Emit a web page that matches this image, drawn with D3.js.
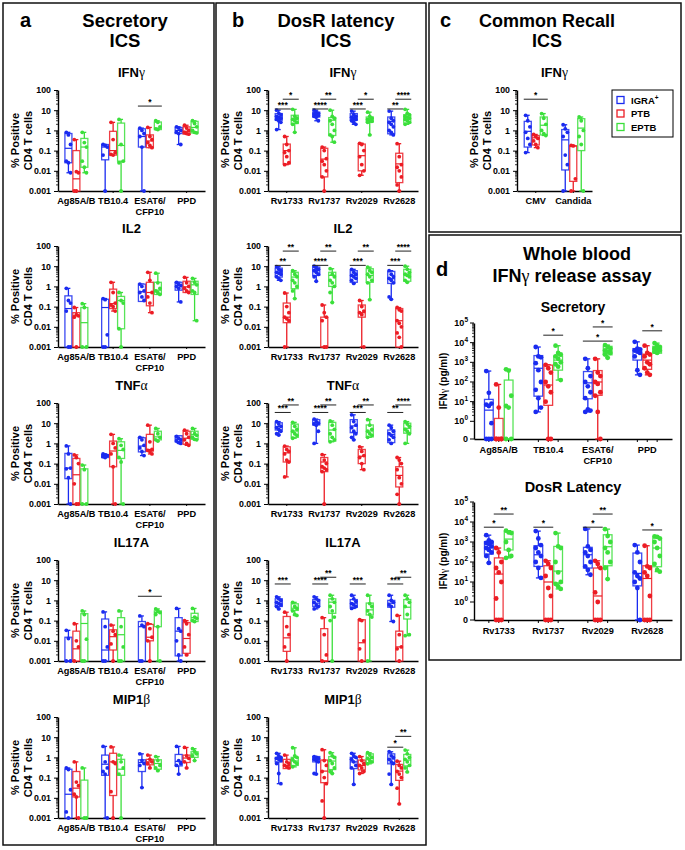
<!DOCTYPE html>
<html><head><meta charset="utf-8">
<script src="https://cdn.jsdelivr.net/npm/d3@7"></script>
<style>
body{margin:0;background:#fff}
svg text{font-family:"Liberation Sans",Arial,sans-serif;font-weight:bold;fill:#000}
</style>
</head><body>
<svg id="chart" width="685" height="850"></svg>
<script>
// ---------------- DATA ----------------
const groups = ["IGRA+","PTB","EPTB"];
const groupColors = ["#1a2bf0","#ec1c24","#3bdf3b"];
const secCats = ["Ag85A/B","TB10.4","ESAT6/|CFP10","PPD"];
const dosCats = ["Rv1733","Rv1737","Rv2029","Rv2628"];
const recallCats = ["CMV","Candida"];
const icsTicks = [0.001,0.01,0.1,1,10,100];
const icsTickLabels = ["0.001","0.01","0.1","1","10","100"];
const wbTicks = [0,1,10,100,1000,10000,100000];
const wbTickLabels = ["0","10|0","10|1","10|2","10|3","10|4","10|5"];

// each group: [q1, median, q3, points]
const aIFNg = [
 [[0.025,0.13,0.7,[0.8,0.6,0.2,0.03,0.025,0.008]],[0.001,0.004,0.1,[0.35,0.009,0.008,0.001,0.001]],[0.015,0.15,0.4,[0.8,0.25,0.15,0.03,0.015,0.008]]],
 [[0.035,0.15,0.2,[0.2,0.18,0.15,0.06,0.001]],[0.06,0.1,0.9,[2.5,0.35,0.08,0.065,0.06]],[0.03,0.18,2.3,[3.5,0.2,0.03,0.025,0.001]]],
 [[0.15,0.5,1.2,[1.3,1,0.7,0.5,0.15,0.001]],[0.14,0.3,0.6,[1.4,0.5,0.35,0.25,0.18,0.14]],[1.1,1.3,2.6,[3,2.5,1.5,1.2,1.1]]],
 [[0.7,1,1.4,[1.5,1.3,1,0.8,0.7,0.2]],[0.65,0.9,1.5,[1.8,1.3,1,0.8,0.7,0.65]],[0.75,1.4,2.8,[3,2.2,1.5,1,0.8,0.75]]]
];
const aIFNgSig = [[2,0,2,"*",16]];
const aIL2 = [
 [[0.001,0.08,0.34,[0.8,0.2,0.15,0.06,0.001,0.001]],[0.001,0.035,0.05,[0.09,0.04,0.035,0.03,0.001]],[0.001,0.016,0.09,[0.14,0.09,0.001,0.001]]],
 [[0.001,0.09,0.23,[0.25,0.22,0.004,0.001,0.001]],[0.08,0.14,0.73,[1.6,0.5,0.15,0.12,0.1,0.06]],[0.008,0.2,0.32,[0.5,0.2,0.15,0.008,0.001]]],
 [[0.18,0.55,1.3,[1.3,1,0.6,0.5,0.3,0.2]],[0.11,0.5,1.6,[5,2,0.5,0.3,0.15,0.05]],[0.4,0.65,1.6,[4.5,1.5,0.8,0.6,0.5,0.4]]],
 [[0.65,1.1,1.6,[1.6,1.3,1.1,1,0.8,0.17]],[0.5,0.95,1.8,[2.8,1.5,1,0.8,0.6,0.5]],[0.4,1.2,1.8,[2.5,1.6,1.2,0.6,0.5,0.02]]]
];
const aIL2Sig = [];
const aTNFa = [
 [[0.018,0.06,0.32,[0.75,0.3,0.06,0.055,0.02,0.001]],[0.001,0.028,0.18,[0.27,0.2,0.1,0.01,0.001,0.001]],[0.001,0.001,0.055,[0.085,0.05,0.001,0.001]]],
 [[0.2,0.24,0.28,[0.3,0.27,0.25,0.22,0.2]],[0.07,0.42,1.3,[2.8,1,0.6,0.3,0.07,0.001]],[0.18,0.45,1.2,[1.7,0.8,0.5,0.2,0.12,0.001]]],
 [[0.38,0.74,1.9,[2,1.5,0.8,0.6,0.4,0.25]],[0.42,0.5,2.8,[8,1.2,0.5,0.45,0.4,0.3]],[1.5,2.1,4,[5.5,3,2,1.5,1.3]]],
 [[1.2,1.6,2.4,[2.2,1.8,1.5,1.3,1.1,1]],[0.9,1.8,4,[4.5,3,2,1.5,1,0.8]],[1.6,2.7,4,[5.5,3,2.5,2,1.6,1.5]]]
];
const aTNFaSig = [];
const aIL17A = [
 [[0.001,0.001,0.015,[0.033,0.013,0.001,0.001]],[0.001,0.004,0.03,[0.07,0.01,0.005,0.001]],[0.001,0.072,0.22,[0.3,0.2,0.012,0.001,0.001]]],
 [[0.001,0.0035,0.12,[0.27,0.05,0.005,0.001,0.001]],[0.0035,0.016,0.035,[0.06,0.03,0.02,0.007,0.001]],[0.001,0.02,0.14,[0.3,0.05,0.005,0.001,0.001]]],
 [[0.001,0.05,0.09,[0.17,0.06,0.05,0.001,0.001]],[0.01,0.015,0.065,[0.07,0.04,0.015,0.01,0.001]],[0.05,0.25,0.3,[0.38,0.3,0.25,0.2,0.05,0.001]]],
 [[0.0018,0.03,0.14,[0.4,0.04,0.03,0.01,0.002,0.001]],[0.0024,0.013,0.08,[0.1,0.07,0.02,0.005,0.002]],[0.09,0.14,0.23,[0.4,0.15,0.13,0.1,0.09]]]
];
const aIL17ASig = [[2,0,2,"*",1.6]];
const aMIP1b = [
 [[0.001,0.015,0.26,[0.3,0.25,0.025,0.002,0.001]],[0.011,0.03,0.2,[0.6,0.06,0.04,0.015,0.011,0.001]],[0.001,0.001,0.075,[0.3,0.001,0.001]]],
 [[0.13,0.46,1.3,[3.5,0.6,0.3,0.2,0.15,0.001]],[0.013,0.6,1.6,[3.3,0.6,0.5,0.02,0.001]],[0.13,0.26,0.8,[1.3,0.6,0.3,0.15,0.001]]],
 [[0.2,0.56,0.76,[1.5,0.7,0.5,0.4,0.032]],[0.43,0.6,0.8,[1.3,0.8,0.6,0.5,0.3]],[0.26,0.5,0.76,[1.1,0.7,0.4,0.3,0.22]]],
 [[0.38,0.63,1.4,[3.5,0.7,0.5,0.4,0.15]],[0.56,0.93,1.3,[3.1,1.2,0.9,0.6,0.3]],[1,1.5,1.9,[2.7,2,1.5,1.2,0.7]]]
];
const aMIP1bSig = [];

const bIFNg = [
 [[3.2,4.6,6.8,[10,7,6,5,4.5,4,3.5,3,2.5,1.1]],[0.022,0.1,0.21,[0.5,0.2,0.1,0.08,0.05,0.025,0.02]],[2.2,3.8,5.6,[11,5,4,3.5,3,2.5,2,0.8]]],
 [[4.6,6.3,8,[10,8,7,6.5,6,5.5,5,4.5,3]],[0.005,0.038,0.13,[0.15,0.1,0.04,0.03,0.02,0.01,0.005,0.001]],[0.56,3.2,4.3,[10,5,4,3,2,1,0.6,0.5,0.26]]],
 [[3.2,4.6,6.8,[9,6,5,4.5,4,3.5,3,2.5,2]],[0.01,0.056,0.21,[0.23,0.2,0.1,0.05,0.02,0.01,0.006]],[2.6,3.8,4.6,[8,5,4,3.5,3,2.8,2.5,0.6]]],
 [[0.68,2.8,4.6,[9,4,3,2.5,2,1.5,1,0.8,0.6]],[0.0026,0.022,0.074,[0.22,0.05,0.02,0.015,0.01,0.005,0.002,0.001]],[2.3,4.6,6,[11,7,6,5,4.5,4,3.5,3,2.5,2]]]
];
const bIFNgSig = [[0,0,1,"***",11.5],[0,1,2,"*",35],[1,0,1,"****",11.5],[1,1,2,"**",35],[2,0,1,"***",11.5],[2,1,2,"*",35],[3,0,1,"**",11.5],[3,1,2,"****",35]];
const bIL2 = [
 [[2.9,5,8,[9.5,7,6,5,4.5,4,3,2.5,2]],[0.016,0.03,0.15,[0.47,0.1,0.05,0.03,0.025,0.02,0.001]],[0.77,2.9,5,[6,4,3,2,1.5,1,0.6,0.25]]],
 [[3.5,6,9,[10,8,7,6,5,4,3,1.8]],[0.001,0.001,0.03,[0.12,0.05,0.03,0.02,0.001,0.001]],[1,3.5,5,[7.5,4,3,2,1.5,1,0.5,0.16]]],
 [[1.6,3.5,6,[7,5,4,3.5,3,2.5,2,1.4]],[0.03,0.05,0.12,[0.2,0.1,0.06,0.05,0.04,0.001]],[1.6,3.5,7.5,[9,6,5,4,3,2,1.5,0.22]]],
 [[1.4,2.4,5.5,[6,4,3,2.5,2,1.5,0.3,0.23]],[0.001,0.02,0.08,[0.09,0.07,0.06,0.02,0.015,0.01,0.005,0.003,0.001]],[1.8,4,7,[10,7,5,4,3.5,3,2,1.6]]]
];
const bIL2Sig = [[0,0,1,"**",11],[0,1,2,"**",56],[1,0,1,"****",11],[1,1,2,"**",56],[2,0,1,"***",11],[2,1,2,"**",56],[3,0,1,"***",11],[3,1,2,"****",56]];
const bTNFa = [
 [[4.6,6.8,10.5,[12,9,7,6,5,4,3,2.6]],[0.12,0.34,0.68,[0.74,0.5,0.4,0.3,0.15,0.12,0.022]],[2,4.1,9,[11,7,5,4,3,2.5,1.8]]],
 [[8.2,10.5,15,[16,12,10,9,8,4,1]],[0.04,0.12,0.2,[0.28,0.15,0.1,0.07,0.06,0.05,0.04,0.001]],[1.3,4.6,11,[13,8,5,3,2,1.5,1.2]]],
 [[3.4,7.3,15,[26,12,8,6,4,3,2,1.5]],[0.1,0.23,0.5,[0.68,0.4,0.25,0.2,0.1,0.05]],[2.1,4.1,8.2,[15,8,5,4,3,2.5,2]]],
 [[1.1,2.8,4.6,[8,6,4,3,2.5,2,1.5,1]],[0.007,0.026,0.07,[0.2,0.15,0.1,0.05,0.02,0.01,0.003,0.001]],[3.2,5.6,10,[12,9,7,5,4,3,1]]]
];
const bTNFaSig = [[0,0,1,"***",34],[0,1,2,"**",80],[1,0,1,"****",34],[1,1,2,"**",80],[2,0,1,"***",34],[2,1,2,"**",80],[3,0,1,"**",34],[3,1,2,"****",80]];
const bIL17A = [
 [[0.5,0.73,1.2,[1.5,1.2,1,0.8,0.7,0.6,0.5,0.38]],[0.003,0.014,0.16,[0.26,0.05,0.02,0.005,0.001]],[0.32,0.41,0.68,[0.8,0.5,0.4,0.3,0.2,0.18]]],
 [[0.5,0.73,1.1,[1.5,1.2,1,0.8,0.6,0.5,0.38]],[0.001,0.001,0.04,[0.14,0.02,0.002,0.001]],[0.23,0.82,1.2,[1.8,1.2,0.8,0.5,0.3,0.15,0.1,0.001]]],
 [[0.46,0.73,1.1,[1.8,1.2,0.9,0.7,0.6,0.5,0.4]],[0.001,0.008,0.11,[0.11,0.1,0.01,0.004,0.001]],[0.19,0.34,0.74,[1.8,0.7,0.5,0.3,0.2,0.15,0.001]]],
 [[0.46,0.73,1,[1.8,1,0.8,0.6,0.5,0.09]],[0.001,0.005,0.03,[0.18,0.02,0.005,0.004,0.001]],[0.12,0.46,1.1,[1.8,1.2,0.8,0.5,0.2,0.02,0.018]]]
];
const bIL17ASig = [[0,0,1,"***",6.5],[1,0,1,"****",6.5],[1,1,2,"**",14],[2,0,1,"***",6.5],[3,0,1,"***",6.5],[3,1,2,"**",14]];
const bMIP1b = [
 [[0.6,0.8,1,[1.6,1.2,1,0.9,0.8,0.7,0.5,0.16,0.05]],[0.28,0.4,0.8,[1.3,0.6,0.5,0.4,0.35,0.3]],[0.4,0.66,1,[3,1.2,1,0.8,0.6,0.5,0.34]]],
 [[0.6,0.8,1.1,[1.1,1,0.9,0.8,0.7,0.6,0.16,0.15]],[0.056,0.21,0.74,[2.4,0.7,0.4,0.2,0.1,0.05,0.007,0.001]],[0.25,0.66,1.1,[1.7,1.2,1,0.7,0.5,0.3,0.2,0.16]]],
 [[0.28,0.6,1,[1.6,1.2,1,0.8,0.6,0.4,0.3,0.046]],[0.24,0.4,0.74,[1.1,0.7,0.5,0.4,0.3,0.2,0.16]],[0.55,0.9,1.5,[1.7,1.3,1,0.9,0.7,0.6,0.48]]],
 [[0.48,0.83,1.5,[1.9,1.2,1,0.8,0.6,0.5,0.15,0.046]],[0.073,0.21,0.45,[0.65,0.4,0.3,0.2,0.15,0.1,0.03,0.005]],[0.38,0.74,1.4,[2.3,1.5,1,0.8,0.6,0.4,0.3,0.19]]]
];
const bMIP1bSig = [[3,0,1,"*",3.2],[3,1,2,"**",11]];

const cIFNg = [
 [[0.15,0.9,2.8,[5.6,3,1.5,0.8,0.4,0.2,0.08]],[0.19,0.43,0.56,[0.63,0.5,0.4,0.3,0.2,0.14]],[0.6,1.8,4.6,[6.8,4,2,1,0.7,0.56]]],
 [[0.011,0.34,1.1,[1.9,1.2,0.8,0.5,0.06,0.02,0.001]],[0.003,0.17,0.17,[0.18,0.17,0.004,0.001]],[0.1,1.3,3.8,[4.6,3,1,0.5,0.2,0.001]]]
];
const cIFNgSig = [[0,0,2,"*",35]];

const dSec = [
 [[0,3.7,13,[360,28,8,7,6,0.8,0,0,0]],[0,0,1.4,[75,5,0,0,0,0,0]],[0,0,125,[440,380,20,6,5,0,0]]],
 [[19,500,2200,[6000,2000,1800,900,400,100,40,15,5,3]],[6.5,70,720,[750,500,300,100,60,30,10,0,0]],[400,1300,2100,[7000,3000,2500,2000,1500,1000,800,600,125]]],
 [[14,90,340,[1500,500,200,100,60,30,15,4,3.5,3]],[21,100,380,[1500,300,200,100,80,30,20,3,0]],[2400,4000,6500,[7500,6000,5000,4000,3500,3000,2500,1700]]],
 [[1300,4000,5000,[11000,5000,4500,4000,3500,3000,2000,400,230]],[440,1300,2600,[7000,3000,2500,2000,1000,800,500,300,230]],[2900,4700,6500,[9500,7000,6000,5000,4500,4000,3500,3000]]]
];
const dSecSig = [[1,1,2,"*",24000],[2,0,2,"*",12000],[2,1,2,"*",63000],[3,1,2,"*",40000]];
const dDosR = [
 [[250,540,1050,[2200,1200,1000,900,800,600,500,400,300,200,90]],[0,25,160,[500,300,100,50,30,10,1.5,0,0,0]],[400,1400,3400,[3700,3000,2800,1000,400,200,160]]],
 [[60,230,650,[3500,1500,700,500,300,200,100,50,16]],[0,10,65,[115,80,50,20,5,2,0,0,0]],[9,35,600,[2800,600,500,100,30,10,8,6,4.5]]],
 [[50,230,540,[4500,600,400,300,200,100,60,40,23]],[0,2,50,[115,80,50,3,1,0,0,0]],[65,580,2300,[4400,2000,1000,500,300,100,50,14]]],
 [[6.4,27,280,[700,300,100,30,20,15,10,5,0]],[0,15,65,[650,60,50,30,20,2,0,0,0]],[58,500,1600,[1900,1800,1500,1000,500,200,80,40,33]]]
];
const dDosRSig = [[0,0,1,"*",5500],[0,1,2,"**",25000],[1,0,1,"*",5500],[2,0,1,"*",5500],[2,1,2,"**",25000],[3,1,2,"*",4000]];

// ---------------- DRAW ----------------
const svg = d3.select("#chart");
svg.append("rect").attr("width",685).attr("height",850).attr("fill","#fff");
const FONT = '"Liberation Sans",Arial,sans-serif';
const ZERO = Math.pow(10,-0.9);

// panel frames
[[3,3,211,842],[216,3,210,842],[429,3,252,229],[429,235,252,425]].forEach(r=>{
  svg.append("rect").attr("x",r[0]).attr("y",r[1]).attr("width",r[2]).attr("height",r[3])
    .attr("fill","none").attr("stroke","#111").attr("stroke-width",1.5);
});

function txt(x,y,s,size,anchor){
  return svg.append("text").attr("x",x).attr("y",y).attr("font-size",size)
    .attr("text-anchor",anchor||"middle").text(s);
}
function greekTitle(x,y,base,greek,size){
  const t = svg.append("text").attr("x",x).attr("y",y).attr("font-size",size).attr("text-anchor","middle");
  t.append("tspan").text(base);
  if(greek) t.append("tspan").attr("font-family",'"Liberation Serif",serif').attr("font-weight","normal").attr("font-size",size*1.05).text(greek);
  return t;
}

// panel headings
txt(20,27,"a",20,"start");
txt(125,27,"Secretory",18.5); txt(125,47,"ICS",18.5);
txt(232,27,"b",20,"start");
txt(336,27,"DosR latency",18.5); txt(336,47,"ICS",18.5);
txt(440,27,"c",20,"start");
txt(547,27,"Common Recall",18); txt(547,47,"ICS",18);
txt(436,276,"d",20,"start");
txt(577,260,"Whole blood",18);
{
  const t = svg.append("text").attr("x",572).attr("y",282).attr("font-size",18).attr("text-anchor","middle");
  t.append("tspan").text("IFN");
  t.append("tspan").attr("font-family",'"Liberation Serif",serif').attr("font-weight","normal").text("γ");
  t.append("tspan").text(" release assay");
}

function drawPlot(o){
  const g = svg.append("g");
  const x = d3.scaleBand().domain(o.cats).range([o.x0,o.x1]);
  const inner = d3.scaleBand().domain(groups).range([-x.bandwidth()*o.gw/2, x.bandwidth()*o.gw/2]);
  const boxW = inner.bandwidth()*0.88;
  const isWB = o.type==="wb";
  const y = d3.scaleLog().domain(isWB?[ZERO,1e5]:[0.001,100]).range([o.bottom,o.top]);
  const yv = v => isWB ? y(v<=0?ZERO:Math.max(v,ZERO)) : y(Math.max(v,0.001));
  const cx = (ci,gi) => x(o.cats[ci]) + x.bandwidth()/2 + inner(groups[gi]) + inner.bandwidth()/2;

  // y axis
  const ticks = isWB?wbTicks:icsTicks;
  const labels = isWB?wbTickLabels:icsTickLabels;
  const axisG = g.append("g").attr("transform",`translate(${o.x0},0)`);
  axisG.call(d3.axisLeft(isWB ? d3.scaleLinear().domain([0,1]).range([o.bottom,o.top]) : y)
     .tickValues(isWB?[]:ticks).tickSize(4).tickSizeOuter(0).tickFormat((d,i)=>labels[i]));
  // minor ticks
  const minors = [];
  const decs = isWB ? [0,1,2,3,4] : [-3,-2,-1,0,1];
  decs.forEach(e=>{ for(let m=2;m<=9;m++) minors.push(m*Math.pow(10,e)); });
  axisG.selectAll("line.minor").data(minors).enter().append("line").attr("class","minor")
    .attr("x1",-2).attr("x2",0).attr("y1",d=>y(d)).attr("y2",d=>y(d)).attr("stroke","#000").attr("stroke-width",0.8);
  if(isWB){
    ticks.forEach((t,i)=>{
      const yy = yv(t);
      axisG.append("line").attr("x1",-4).attr("x2",0).attr("y1",yy).attr("y2",yy).attr("stroke","#000");
      const parts = labels[i].split("|");
      const tx = axisG.append("text").attr("x",-6).attr("y",yy+3).attr("font-size",9).attr("text-anchor","end");
      tx.append("tspan").text(parts[0]);
      if(parts[1]!==undefined) tx.append("tspan").attr("dy",-4).attr("font-size",6.5).text(parts[1]);
    });
  }
  axisG.selectAll(".tick text").attr("font-size",8.8).attr("font-family",FONT).attr("font-weight","bold").attr("fill","#000");
  axisG.selectAll(".tick line").attr("stroke","#000");
  axisG.select(".domain").attr("stroke","#000").attr("stroke-width",1.4);

  // x axis
  const xAxG = g.append("g").attr("transform",`translate(0,${o.bottom})`);
  xAxG.call(d3.axisBottom(x).tickSize(isWB?0:2).tickSizeOuter(0).tickFormat(""));
  xAxG.select(".domain").attr("stroke","#000").attr("stroke-width",1.4);
  xAxG.selectAll(".tick line").attr("stroke","#000");
  if(isWB){
    o.cats.forEach((c,ci)=>groups.forEach((gr,gi)=>{
      xAxG.append("line").attr("x1",cx(ci,gi)).attr("x2",cx(ci,gi)).attr("y1",0).attr("y2",3).attr("stroke","#000");
    }));
  }
  o.cats.forEach(c=>{
    const parts = c.split("|");
    parts.forEach((p,k)=>{
      g.append("text").attr("x",x(c)+x.bandwidth()/2).attr("y",o.bottom+(isWB?14:13)+k*11)
        .attr("font-size",o.catSize||9.2).attr("text-anchor","middle").text(p);
    });
  });

  // boxes
  o.data.forEach((cat,ci)=>{
    cat.forEach((grp,gi)=>{
      const [q1,med,q3,pts] = grp;
      const col = groupColors[gi];
      const X = cx(ci,gi);
      const mn = d3.min(pts), mx = d3.max(pts);
      g.append("line").attr("x1",X).attr("x2",X).attr("y1",yv(mx)).attr("y2",yv(mn)).attr("stroke",col).attr("stroke-width",1.3);
      [mn,mx].forEach(v=>g.append("line").attr("x1",X-boxW*0.28).attr("x2",X+boxW*0.28).attr("y1",yv(v)).attr("y2",yv(v)).attr("stroke",col).attr("stroke-width",1.3));
      g.append("rect").attr("x",X-boxW/2).attr("y",yv(q3)).attr("width",boxW).attr("height",Math.max(0.5,yv(q1)-yv(q3)))
        .attr("fill","#fff").attr("stroke",col).attr("stroke-width",1.3).attr("stroke-opacity",0.85);
      g.append("line").attr("x1",X-boxW/2).attr("x2",X+boxW/2).attr("y1",yv(med)).attr("y2",yv(med)).attr("stroke",col).attr("stroke-width",1.2);
      pts.forEach((p,k)=>{
        const off = ((k%3)-1)*boxW*0.3;
        g.append("circle").attr("cx",X+off).attr("cy",yv(p)).attr("r",o.r).attr("fill",col);
      });
    });
  });

  // significance
  o.sig.forEach(s=>{
    const [ci,g1,g2,lab,val] = s;
    const xa = cx(ci,g1)-o.sx, xb = cx(ci,g2)+o.sx, yy = yv(val);
    g.append("line").attr("x1",xa).attr("x2",xb).attr("y1",yy).attr("y2",yy).attr("stroke","#222").attr("stroke-width",1);
    g.append("text").attr("x",(xa+xb)/2).attr("y",yy-1).attr("font-size",8.5).attr("font-weight","normal").attr("text-anchor","middle").text(lab);
  });

  // title
  greekTitle((o.x0+o.x1)/2, o.titleY, o.title[0], o.title[1], o.titleSize||13);

  // y label
  if(isWB){
    const t = g.append("text").attr("transform",`translate(${o.x0-27},${(o.top+o.bottom)/2}) rotate(-90)`)
      .attr("font-size",10).attr("text-anchor","middle");
    t.append("tspan").text("IFN");
    t.append("tspan").attr("font-family",'"Liberation Serif",serif').attr("font-weight","normal").text("γ");
    t.append("tspan").text(" (pg/ml)");
  } else {
    const cy = (o.top+o.bottom)/2;
    g.append("text").attr("transform",`translate(${o.x0-39},${cy}) rotate(-90)`).attr("font-size",11).attr("text-anchor","middle").text("% Positive");
    g.append("text").attr("transform",`translate(${o.x0-26},${cy}) rotate(-90)`).attr("font-size",11).attr("text-anchor","middle").text("CD4 T cells");
  }
}

const icsTops = [90,246,403,560,717];
const aSets = [[aIFNg,aIFNgSig,["IFN","γ"]],[aIL2,aIL2Sig,["IL2",""]],[aTNFa,aTNFaSig,["TNF","α"]],[aIL17A,aIL17ASig,["IL17A",""]],[aMIP1b,aMIP1bSig,["MIP1","β"]]];
const bSets = [[bIFNg,bIFNgSig,["IFN","γ"]],[bIL2,bIL2Sig,["IL2",""]],[bTNFa,bTNFaSig,["TNF","α"]],[bIL17A,bIL17ASig,["IL17A",""]],[bMIP1b,bMIP1bSig,["MIP1","β"]]];
aSets.forEach((s,i)=>drawPlot({type:"ics",cats:secCats,data:s[0],sig:s[1],title:s[2],x0:58,x1:205,top:icsTops[i],bottom:icsTops[i]+101,titleY:icsTops[i]-13,gw:0.65,r:1.9,sx:4}));
bSets.forEach((s,i)=>drawPlot({type:"ics",cats:dosCats,data:s[0],sig:s[1],title:s[2],x0:268,x1:418,top:icsTops[i],bottom:icsTops[i]+101,titleY:icsTops[i]-13,gw:0.64,r:1.9,sx:4}));
drawPlot({type:"ics",cats:recallCats,data:cIFNg,sig:cIFNgSig,title:["IFN","γ"],x0:517,x1:592,top:90,bottom:191,titleY:77,gw:0.64,r:1.9,sx:4});
drawPlot({type:"wb",cats:secCats,data:dSec,sig:dSecSig,title:["Secretory",""],titleSize:14,x0:474,x1:672,top:323,bottom:439,titleY:312,gw:0.6,r:2.4,sx:5});
drawPlot({type:"wb",cats:dosCats,data:dDosR,sig:dDosRSig,title:["DosR Latency",""],titleSize:14.5,x0:474,x1:672,top:502,bottom:620,titleY:492,gw:0.6,r:2.4,sx:5});

// legend (panel c)
svg.append("rect").attr("x",612).attr("y",90).attr("width",61).attr("height",47).attr("fill","#fff").attr("stroke","#000").attr("stroke-width",1);
const legLabels = [["IGRA","+"],["PTB",""],["EPTB",""]];
groups.forEach((gname,i)=>{
  const yy = 100 + i*13.5;
  svg.append("rect").attr("x",617).attr("y",yy-3.5).attr("width",7).attr("height",7).attr("fill","none").attr("stroke",groupColors[i]).attr("stroke-width",1.3);
  const t = svg.append("text").attr("x",631).attr("y",yy+3.5).attr("font-size",9.5);
  t.append("tspan").text(legLabels[i][0]);
  if(legLabels[i][1]) t.append("tspan").attr("dy",-3.5).attr("font-size",6.5).text(legLabels[i][1]);
});
</script>
</body></html>
